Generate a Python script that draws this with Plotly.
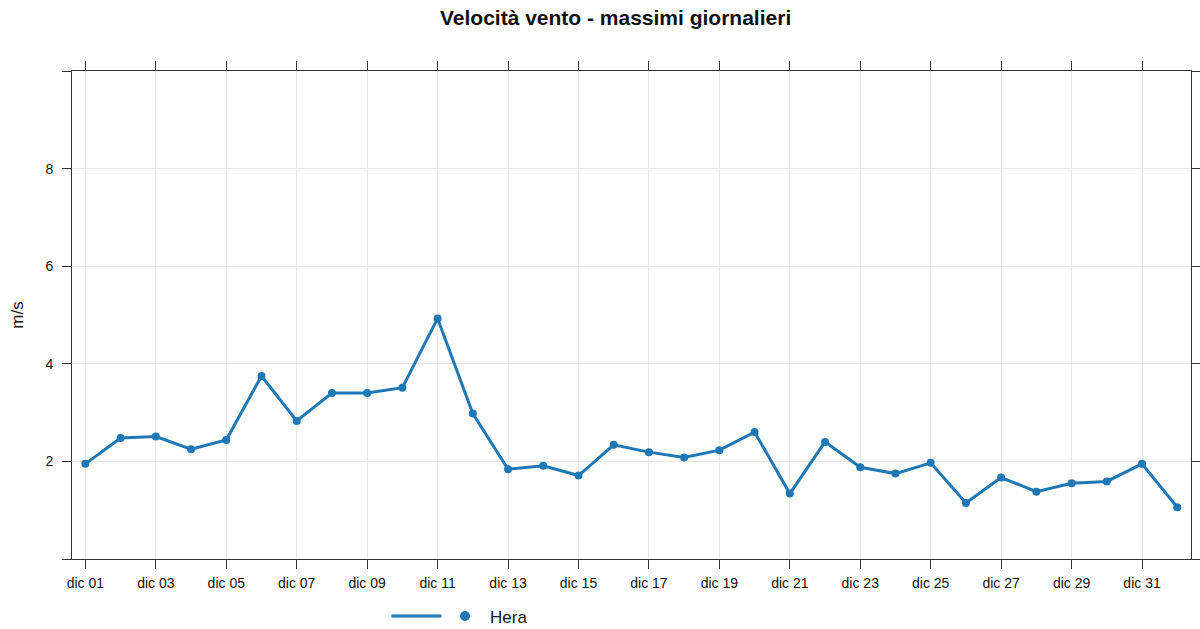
import plotly.graph_objects as go
import pandas as pd

# Data: daily max wind speed (m/s), 1 Dec – 1 Jan
dates = pd.date_range("2023-12-01", "2024-01-01", freq="D")
values = [1.95, 2.48, 2.51, 2.25, 2.44, 3.75, 2.83, 3.40, 3.40, 3.51,
          4.93, 2.98, 1.84, 1.91, 1.71, 2.34, 2.19, 2.08, 2.23, 2.60,
          1.34, 2.40, 1.88, 1.75, 1.97, 1.15, 1.67, 1.38, 1.55, 1.59,
          1.95, 1.06]
series_name = "Hera"

tick_dates = pd.date_range("2023-12-01", "2023-12-31", freq="2D")
tick_labels = ["dic %02d" % d.day for d in tick_dates]
y_ticks = [0, 2, 4, 6, 8, 10]
y_tick_labels = ["", "2", "4", "6", "8", ""]

color = "#1f78b4"
axis_col = "#333333"
grid_col = "#e8e8e8"
font_family = "Liberation Sans, Arial, sans-serif"

fig = go.Figure()
fig.add_trace(go.Scatter(
    x=dates, y=values, mode="lines+markers",
    line=dict(color=color, width=3),
    marker=dict(color=color, size=8),
    showlegend=False, name=series_name,
))
# legend key: line in one legend, marker + name in a second legend
fig.add_trace(go.Scatter(x=[None], y=[None], mode="lines",
                         line=dict(color=color, width=3), name=" ",
                         showlegend=True, hoverinfo="skip", legend="legend"))
fig.add_trace(go.Scatter(x=[None], y=[None], mode="markers",
                         marker=dict(color=color, size=10), name=series_name,
                         showlegend=True, hoverinfo="skip", legend="legend2"))

fig.update_layout(
    width=1200, height=629,
    margin=dict(l=72, r=9, t=71, b=70),
    paper_bgcolor="white", plot_bgcolor="white",
    font=dict(family=font_family, color="#111111", size=14),
    title=dict(text="<b>Velocità vento - massimi giornalieri</b>",
               x=0.513, xanchor="center", y=1 - 18 / 629, yanchor="middle",
               font=dict(size=21, color="#111111")),
    showlegend=True,
    legend=dict(orientation="h", xref="container", yref="container",
                x=386.5 / 1200, xanchor="left", y=1 - 616.5 / 629, yanchor="middle",
                font=dict(size=17), itemwidth=50, bgcolor="rgba(0,0,0,0)"),
    legend2=dict(orientation="h", xref="container", yref="container",
                 x=440 / 1200, xanchor="left", y=1 - 616.5 / 629, yanchor="middle",
                 font=dict(size=17), itemwidth=40, bgcolor="rgba(0,0,0,0)"),
)
fig.update_xaxes(
    type="date", automargin=False,
    range=["2023-11-30 14:53", "2024-01-01 09:22"],
    tickvals=tick_dates, ticktext=tick_labels,
    showgrid=True, gridcolor=grid_col, gridwidth=1,
    showline=True, linecolor=axis_col, linewidth=1, mirror="ticks",
    ticks="outside", ticklen=9, tickcolor=axis_col, tickwidth=1,
    tickfont=dict(size=14), zeroline=False, ticklabelstandoff=2,
)
fig.update_yaxes(
    range=[0, 10], automargin=False,
    tickvals=y_ticks, ticktext=y_tick_labels,
    showgrid=True, gridcolor=grid_col, gridwidth=1,
    showline=True, linecolor=axis_col, linewidth=1, mirror="ticks",
    ticks="outside", ticklen=9, tickcolor=axis_col, tickwidth=1,
    tickfont=dict(size=14), zeroline=False, ticklabelstandoff=6,
    title=dict(text="m/s", font=dict(size=17), standoff=17),
)

fig.write_html("out.html", config={"displayModeBar": False},
               post_script="document.body.style.margin='0px';")
